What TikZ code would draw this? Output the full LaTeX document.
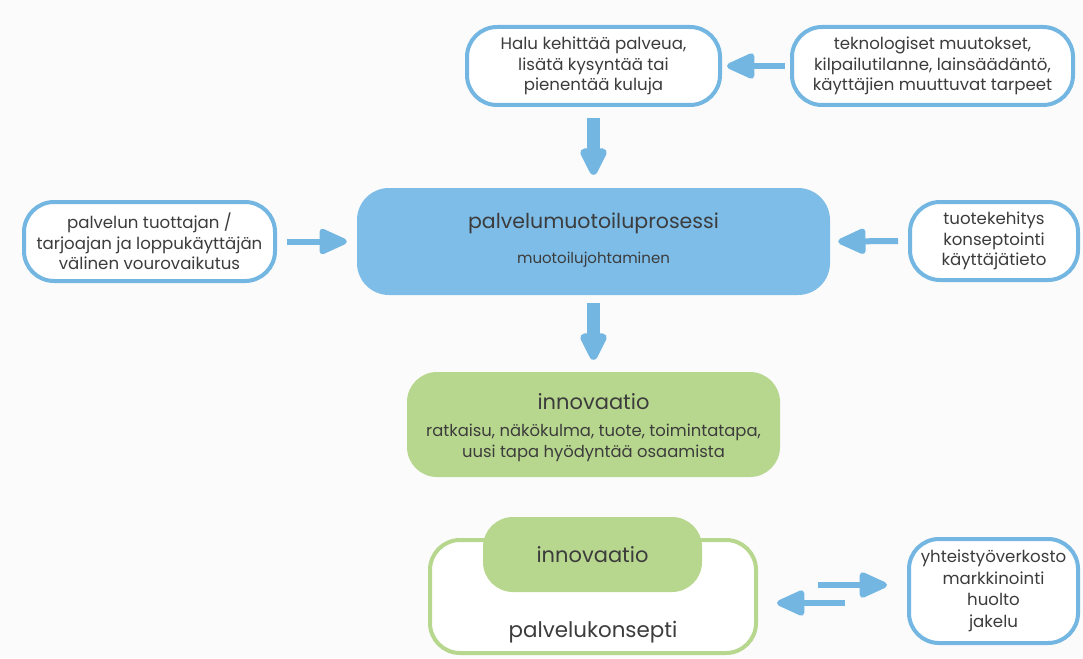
\documentclass[tikz,border=0pt]{standalone}
\usepackage{fontspec}
\setmainfont{Poppins}
\usetikzlibrary{arrows.meta,calc}
\definecolor{bblue}{HTML}{74B6E2}
\definecolor{fblue}{HTML}{7DBDE8}
\definecolor{fgreen}{HTML}{B8D78E}
\definecolor{txt}{HTML}{3C3C3C}
\definecolor{bg}{HTML}{FBFBFB}
\tikzset{
  wbox/.style={draw=bblue, line width=4pt, fill=white, rounded corners=30pt, inner sep=0pt, align=center, text=txt, font=\fontsize{16.6}{20.5}\selectfont},
  bbox/.style={fill=fblue, rounded corners=32pt, inner sep=0pt, align=center, text=txt},
  gbox/.style={fill=fgreen, rounded corners=30pt, inner sep=0pt, align=center, text=txt},
  obox/.style={draw=fgreen, line width=4pt, fill=white, rounded corners=30pt, inner sep=0pt},
  harr/.style={draw=bblue, line width=6pt, -{Triangle[length=32pt,width=27pt,round]}},
  varr/.style={draw=bblue, line width=13pt, -{Triangle[length=32pt,width=29pt,round]}},
}
\begin{document}
\begin{tikzpicture}[x=1pt,y=-1pt]
\fill[bg] (0,0) rectangle (1083,658);
\useasboundingbox (0,0) rectangle (1083,658);
% top row
\node[wbox, minimum width=253pt, minimum height=78pt] (halu) at (593.5,66)
  {Halu kehittää palveua,\\lisätä kysyntää tai\\pienentää kuluja};
\node[wbox, minimum width=281pt, minimum height=78pt] (tekno) at (932.5,66)
  {teknologiset muutokset,\\kilpailutilanne, lainsäädäntö,\\käyttäjien muuttuvat tarpeet};
% middle row
\node[wbox, minimum width=251pt, minimum height=79pt] (vuoro) at (149.5,241.5)
  {palvelun tuottajan /\\tarjoajan ja loppukäyttäjän\\välinen vourovaikutus};
\node[bbox, minimum width=473pt, minimum height=107pt] (proc) at (593.5,241.5) {};
\node[text=txt, font=\fontsize{20.5}{24}\selectfont] (proct) at (593.5,223) {palvelumuotoiluprosessi};
\node[text=txt, font=\fontsize{15}{18}\selectfont] (procs) at (593.5,260) {muotoilujohtaminen};
\node[wbox, minimum width=168pt, minimum height=78pt] (tuote) at (994,241)
  {tuotekehitys\\konseptointi\\käyttäjätieto};
% innovation
\node[gbox, minimum width=373pt, minimum height=105pt] (innov) at (593.5,424.5) {};
\node[text=txt, font=\fontsize{21}{25}\selectfont] (innovt) at (593.5,402) {innovaatio};
\node[text=txt, align=center, font=\fontsize{16.4}{20.5}\selectfont] (innovs) at (593.5,443)
  {ratkaisu, näkökulma, tuote, toimintatapa,\\uusi tapa hyödyntää osaamista};
% bottom
\node[obox, minimum width=326pt, minimum height=113pt] (kons) at (593,596.5) {};
\node[gbox, minimum width=219pt, minimum height=75pt, font=\fontsize{21}{25}\selectfont] (innov2) at (592.5,554.5) {innovaatio};
\node[text=txt, font=\fontsize{21.4}{25}\selectfont] (konst) at (593,632) {palvelukonsepti};
\node[wbox, minimum width=169pt, minimum height=104pt, font=\fontsize{16.6}{21.5}\selectfont] (yht) at (993.5,591)
  {yhteistyöverkosto\\markkinointi\\huolto\\jakelu};
% connectors
\draw[harr, shorten <=5pt, shorten >=5pt] (tekno.west) -- (halu.east);
\draw[varr, shorten <=11pt, shorten >=13pt] (halu.south) -- (proc.north);
\draw[harr, shorten <=10pt, shorten >=10pt] (vuoro.east) -- (proc.west);
\draw[harr, shorten <=10pt, shorten >=8pt] (tuote.west) -- (proc.east);
\draw[varr, shorten <=8pt, shorten >=12pt] (proc.south) -- (innov.north);
\coordinate (ra) at (0,585);
\coordinate (la) at (0,603);
\draw[harr, shorten <=60pt, shorten >=20pt] (kons.east |- ra) -- (yht.west |- ra);
\draw[harr, shorten <=62pt, shorten >=19pt] (yht.west |- la) -- (kons.east |- la);
\end{tikzpicture}
\end{document}
